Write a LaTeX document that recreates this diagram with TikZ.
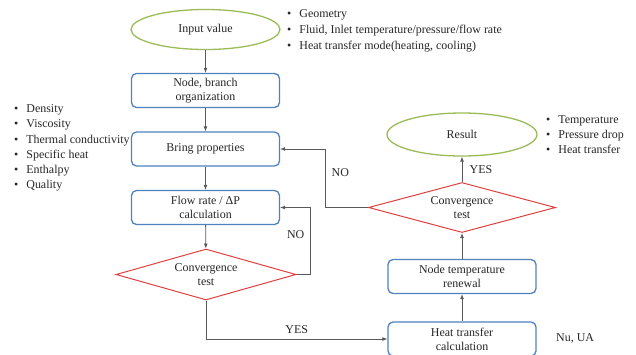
\documentclass[tikz,border=0pt]{standalone}
\usepackage{fontspec}
\setmainfont{Liberation Serif}
\usetikzlibrary{shapes.geometric,arrows.meta}

\definecolor{termgreen}{RGB}{155,187,89}
\definecolor{procblue}{RGB}{79,129,189}
\definecolor{testred}{RGB}{222,64,64}
\definecolor{linegray}{RGB}{90,90,90}

\begin{document}
\begin{tikzpicture}[x=1bp,y=-1bp,
    every node/.style={font=\fontsize{12}{14}\selectfont,text=black!85},
    term/.style={draw=termgreen,line width=1.3bp,ellipse,inner sep=0pt,
      minimum width=149bp,minimum height=40bp},
    proc/.style={draw=procblue,line width=1.3bp,rectangle,rounded corners=5bp,
      align=center,inner sep=0pt,minimum width=148bp,minimum height=34bp},
    test/.style={draw=testred,line width=1bp,diamond,aspect=3.5,align=center,
      inner sep=0pt,minimum width=180bp,minimum height=51bp},
    flow/.style={draw=linegray,line width=0.8bp,-{Latex[length=5bp,width=4bp]}},
    info/.style={anchor=west,inner sep=0pt,align=left}]
    \useasboundingbox (0,0) rectangle (636,354);

    % left column
    \node[term] (input) at (205.5,29.5) {Input value};
    \node[proc] (organize) at (205.5,90.5) {Node, branch\\organization};
    \node[proc] (props) at (205.5,149) {Bring properties};
    \node[proc] (flowrate) at (205.5,207.5) {Flow rate / ΔP\\calculation};
    \node[test] (conv1) at (206,274.5) {Convergence\\test};

    % right column
    \node[proc] (heat) at (462,339) {Heat transfer\\calculation};
    \node[proc] (renew) at (462,276.5) {Node temperature\\renewal};
    \node[test,minimum width=187bp,minimum height=50bp] (conv2) at (462,207.5) {Convergence\\test};
    \node[term,minimum width=150bp,minimum height=43bp] (result) at (462,134.5) {Result};

    % lists
    \node[info,font=\fontsize{12}{16}\selectfont] (inputlist) at (287,31)
      {\textbullet\hspace{8bp}Geometry\\
       \textbullet\hspace{8bp}Fluid, Inlet temperature/pressure/flow rate\\
       \textbullet\hspace{8bp}Heat transfer mode(heating, cooling)};
    \node[info,font=\fontsize{12}{15.2}\selectfont] (proplist) at (14,148)
      {\textbullet\hspace{8bp}Density\\
       \textbullet\hspace{8bp}Viscosity\\
       \textbullet\hspace{8bp}Thermal conductivity\\
       \textbullet\hspace{8bp}Specific heat\\
       \textbullet\hspace{8bp}Enthalpy\\
       \textbullet\hspace{8bp}Quality};
    \node[info,font=\fontsize{12}{15}\selectfont] (resultlist) at (546,135)
      {\textbullet\hspace{8bp}Temperature\\
       \textbullet\hspace{8bp}Pressure drop\\
       \textbullet\hspace{8bp}Heat transfer};
    \node[info] (nuua) at (556,338) {Nu, UA};

    % connectors
    \draw[flow] (input) -- (organize);
    \draw[flow] (organize) -- (props);
    \draw[flow] (props) -- (flowrate);
    \draw[flow] (flowrate) -- (conv1);
    \draw[flow] (conv1.east) -- (310,274.5) |- node[pos=0.3,left=2bp] {NO} (flowrate.east);
    \draw[flow] (conv1.south) |- node[pos=0.75,above=2bp] {YES} (heat.west);
    \draw[flow] (heat) -- (renew);
    \draw[flow] (renew) -- (conv2);
    \draw[flow] (conv2) -- node[right=4bp] {YES} (result);
    \draw[flow] (conv2.west) -- (325,207.5) |- node[pos=0.3,right=3bp] {NO} (props.east);
  \end{tikzpicture}
\end{document}
